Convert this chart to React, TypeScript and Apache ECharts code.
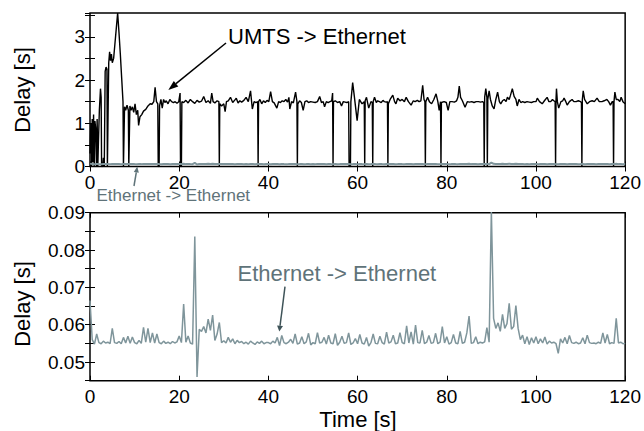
import React, { useEffect, useRef } from "react";
import * as echarts from "echarts";

// Time axis ticks (s)
const timeTicks = [0, 20, 40, 60, 80, 100, 120];

// UMTS -> Ethernet one-way delay [time s, delay s]
const umtsDelay: [number, number][] = [
  [0, 0.3], [0.2, 1.0], [0.35, 0], [0.5, 1.1], [0.65, 0.1], [0.8, 1.2], [0.95, 0], [1.1, 1.05], [1.3, 0.85], [1.45, 0],
  [1.6, 1.1], [1.75, 0], [1.9, 0.6], [2.1, 1.3], [2.35, 1.8], [2.5, 1.6], [2.6, 0], [2.85, 0], [3.0, 0.2], [3.2, 0],
  [3.4, 2.2], [3.6, 2.3], [3.8, 2.25], [3.9, 0], [4.05, 0], [4.2, 2.4], [4.4, 2.65], [4.6, 2.45], [4.8, 2.6], [5.0, 2.4],
  [5.3, 2.5], [5.6, 2.85], [5.9, 3.2], [6.2, 3.55], [6.5, 3.1], [6.8, 2.6], [7.1, 2.05], [7.4, 1.5], [7.5, 0], [7.6, 0],
  [7.75, 1.38], [8.0, 1.3], [8.3, 1.42], [8.6, 1.3], [8.7, 0], [8.8, 0], [8.95, 1.4], [9.2, 1.3], [9.5, 1.38], [9.8, 1.25],
  [10.1, 1.45], [10.4, 1.2], [10.7, 1.3], [10.9, 0.95], [11.2, 1.15], [11.6, 1.2], [12.0, 1.28], [12.5, 1.32], [13.0, 1.4], [13.5, 1.45],
  [13.9, 1.44], [14.3, 1.5], [14.6, 1.83], [14.9, 1.5], [15.2, 1.45], [15.3, 0], [15.5, 0], [15.6, 1.4], [15.9, 1.55], [16.2, 1.35],
  [16.5, 1.55], [16.8, 1.48], [17.1, 1.52], [17.5, 1.45], [17.9, 1.55], [18.3, 1.5], [18.7, 1.48], [19.1, 1.5], [19.5, 1.46], [19.9, 1.5],
  [20.2, 1.7], [20.3, 0], [20.5, 0], [20.6, 1.5], [21.0, 1.48], [21.5, 1.53], [22.0, 1.47], [22.5, 1.55], [23.0, 1.5], [23.5, 1.46],
  [24.0, 1.53], [24.5, 1.49], [25.0, 1.51], [25.5, 1.62], [26.0, 1.48], [26.5, 1.52], [27.0, 1.46], [27.3, 1.7], [27.6, 1.5], [28.0, 1.47],
  [28.5, 1.52], [28.9, 1.5], [29.0, 0], [29.1, 1.45], [29.5, 1.4], [30.0, 1.45], [30.3, 1.27], [30.6, 1.5], [31.0, 1.52], [31.5, 1.6],
  [32.0, 1.48], [32.5, 1.54], [32.8, 1.58], [33.2, 1.47], [33.6, 1.52], [34.0, 1.49], [34.5, 1.53], [35.0, 1.6], [35.5, 1.5], [36.0, 1.75],
  [36.4, 1.33], [36.8, 1.5], [37.2, 1.48], [37.6, 1.5], [37.7, 0], [37.8, 1.5], [38.1, 1.55], [38.5, 1.45], [38.9, 1.52], [39.3, 1.48],
  [39.7, 1.53], [40.1, 1.5], [40.5, 1.73], [40.9, 1.5], [41.3, 1.47], [41.9, 1.35], [42.3, 1.5], [42.7, 1.48], [43.1, 1.52], [43.5, 1.5],
  [43.9, 1.55], [44.3, 1.49], [44.6, 1.6], [44.8, 1.33], [45.2, 1.5], [45.6, 1.47], [46.1, 1.72], [46.4, 1.5], [46.5, 0], [46.6, 1.45],
  [47.0, 1.52], [47.4, 1.48], [47.8, 1.3], [48.2, 1.5], [48.6, 1.52], [49.0, 1.48], [49.5, 1.5], [50.0, 1.49], [50.5, 1.48], [51.0, 1.5],
  [51.5, 1.62], [51.9, 1.48], [52.3, 1.5], [52.6, 1.38], [53.0, 1.5], [53.4, 1.48], [53.8, 1.5], [54.2, 1.52], [54.4, 1.7], [54.5, 0],
  [54.6, 1.5], [55.0, 1.52], [55.5, 1.48], [56.0, 1.5], [56.4, 1.4], [56.8, 1.5], [57.2, 1.49], [57.6, 1.48], [58.0, 1.5], [58.1, 0],
  [58.4, 0], [58.5, 1.5], [58.9, 1.94], [59.3, 1.6], [59.9, 1.06], [60.4, 1.55], [61.0, 1.45], [61.5, 1.5], [61.6, 0], [61.7, 1.52],
  [62.0, 1.6], [62.5, 1.35], [63.0, 1.5], [63.3, 1.48], [63.4, 0], [63.5, 1.5], [63.8, 1.6], [64.2, 1.48], [64.5, 1.52], [64.9, 1.5],
  [65.3, 1.48], [65.7, 1.53], [66.0, 1.5], [66.4, 1.49], [66.7, 1.5], [66.8, 0], [66.9, 1.45], [67.3, 1.55], [67.9, 1.65], [68.3, 1.5],
  [68.6, 1.45], [69.0, 1.58], [69.5, 1.52], [70.0, 1.55], [70.5, 1.5], [70.9, 1.6], [71.4, 1.5], [72.0, 1.42], [72.5, 1.52], [72.9, 1.5],
  [73.4, 1.53], [73.8, 1.5], [74.2, 1.52], [74.6, 1.88], [74.9, 1.55], [75.1, 1.5], [75.2, 0], [75.3, 1.5], [75.7, 1.6], [76.1, 1.5],
  [76.6, 1.45], [77.1, 1.55], [77.6, 1.68], [78.0, 1.5], [78.3, 1.3], [78.6, 1.5], [78.7, 0], [78.8, 1.48], [79.4, 1.5], [79.9, 1.48],
  [80.3, 1.3], [80.7, 1.5], [81.2, 1.5], [81.7, 1.49], [82.2, 1.52], [82.5, 1.6], [82.8, 1.86], [83.1, 1.6], [83.5, 1.52], [84.1, 1.37],
  [84.6, 1.5], [85.1, 1.49], [85.6, 1.5], [86.1, 1.48], [86.6, 1.5], [87.1, 1.5], [87.6, 1.49], [88.0, 1.5], [88.3, 1.48], [88.4, 0],
  [88.5, 1.6], [88.75, 1.8], [89.0, 1.6], [89.1, 0], [89.2, 1.55], [89.5, 1.75], [89.8, 1.55], [90.2, 1.4], [90.6, 1.33], [91.0, 1.55],
  [91.4, 1.72], [91.8, 1.5], [92.1, 1.45], [92.5, 1.52], [92.9, 1.55], [93.3, 1.5], [93.6, 1.6], [94.0, 1.55], [94.3, 1.65], [94.7, 1.8],
  [95.1, 1.62], [95.5, 1.55], [95.8, 1.4], [96.2, 1.55], [96.6, 1.48], [97.0, 1.5], [97.5, 1.48], [98.0, 1.5], [98.5, 1.49], [99.0, 1.48],
  [99.5, 1.5], [100.0, 1.5], [100.3, 1.58], [100.8, 1.5], [101.4, 1.45], [101.9, 1.52], [102.5, 1.6], [102.9, 1.5], [103.3, 1.5], [103.7, 1.55],
  [104.0, 1.52], [104.3, 1.5], [104.4, 0], [104.5, 1.55], [104.6, 1.8], [104.8, 1.5], [105.1, 1.35], [105.6, 1.5], [106.0, 1.52], [106.3, 1.58],
  [106.7, 1.5], [107.0, 1.42], [107.5, 1.5], [108.1, 1.55], [108.5, 1.5], [109.0, 1.5], [109.5, 1.52], [110.0, 1.5], [110.2, 1.48], [110.3, 0],
  [110.4, 1.55], [110.6, 1.75], [110.9, 1.55], [111.5, 1.45], [112.0, 1.5], [112.6, 1.52], [113.1, 1.5], [113.7, 1.58], [114.2, 1.5], [114.8, 1.5],
  [115.3, 1.52], [115.9, 1.55], [116.3, 1.5], [116.7, 1.42], [117.1, 1.5], [117.3, 1.5], [117.4, 0], [117.5, 1.5], [117.7, 1.72], [118.0, 1.55],
  [118.4, 1.55], [118.8, 1.5], [119.1, 1.6], [119.5, 1.5], [120, 1.45],
];

// Ethernet -> Ethernet delay, sampled every 0.5 s from t = 0
const ethernetStart = 0;
const ethernetStep = 0.5;
const ethernetDelay = [
  0.0665, 0.056, 0.0548, 0.0575, 0.0552, 0.0549, 0.0556, 0.0551, 0.0553, 0.0549,
  0.059, 0.0552, 0.055, 0.0555, 0.0549, 0.0566, 0.0551, 0.0569, 0.055, 0.0567,
  0.0552, 0.0549, 0.0558, 0.055, 0.0593, 0.0553, 0.059, 0.0552, 0.0578, 0.0551,
  0.0575, 0.0552, 0.0549, 0.0556, 0.055, 0.0553, 0.0549, 0.0555, 0.0551, 0.0554,
  0.057, 0.0552, 0.0655, 0.0553, 0.057, 0.0551, 0.0548, 0.0836, 0.046, 0.0588,
  0.0582, 0.0595, 0.0578, 0.0615, 0.0585, 0.0626, 0.0558, 0.0575, 0.0606, 0.0552,
  0.0557, 0.0551, 0.0566, 0.0553, 0.0562, 0.0549, 0.0558, 0.0552, 0.0555, 0.0549,
  0.0553, 0.0548, 0.0556, 0.0551, 0.0547, 0.0554, 0.055, 0.0556, 0.0549, 0.0552,
  0.0552, 0.0549, 0.0556, 0.0551, 0.0566, 0.0544, 0.0571, 0.0552, 0.0549, 0.0553,
  0.0561, 0.055, 0.0575, 0.0548, 0.0551, 0.0568, 0.0549, 0.0554, 0.0577, 0.0546,
  0.0552, 0.0549, 0.0579, 0.0551, 0.0553, 0.0566, 0.0548, 0.0572, 0.0551, 0.0549,
  0.0576, 0.0545, 0.0553, 0.0569, 0.055, 0.0552, 0.0578, 0.0547, 0.0551, 0.0563,
  0.0549, 0.0574, 0.0551, 0.0548, 0.0566, 0.0543, 0.0552, 0.0575, 0.055, 0.0549,
  0.0569, 0.0552, 0.0548, 0.058, 0.0551, 0.0554, 0.0572, 0.0549, 0.0551, 0.0579,
  0.0552, 0.0549, 0.0597, 0.0551, 0.0581, 0.0548, 0.0599, 0.0552, 0.0551, 0.0585,
  0.0549, 0.0553, 0.0571, 0.055, 0.0552, 0.0577, 0.0549, 0.0553, 0.0595, 0.0551,
  0.0568, 0.0548, 0.0552, 0.0574, 0.0551, 0.0549, 0.0582, 0.055, 0.0553, 0.0578,
  0.0623, 0.055, 0.0552, 0.0568, 0.0549, 0.0553, 0.0551, 0.0554, 0.0592, 0.0553,
  0.0905, 0.0617, 0.059, 0.0605, 0.0582, 0.0628, 0.059, 0.0603, 0.0657, 0.0588,
  0.0595, 0.0651, 0.059, 0.056, 0.0572, 0.0549, 0.0568, 0.0547, 0.0565, 0.0551,
  0.0568, 0.0549, 0.0562, 0.0551, 0.0567, 0.0548, 0.0556, 0.0551, 0.0553, 0.0549,
  0.0523, 0.0562, 0.0551, 0.0566, 0.0549, 0.0571, 0.0552, 0.055, 0.0553, 0.0549,
  0.0551, 0.0565, 0.0549, 0.0572, 0.0552, 0.055, 0.0551, 0.0549, 0.0553, 0.055,
  0.0578, 0.0551, 0.0574, 0.0549, 0.0552, 0.055, 0.0617, 0.0551, 0.0553, 0.0549,
  0.055,
];

const GREY = "#7f959b";
const TEXT_GREY = "#5f7379";
const ARROW_GREY = "#3e5358";
const FONT = "'Liberation Sans', Arial, Helvetica, sans-serif";

export default function App() {
  const ref = useRef<HTMLDivElement>(null);

  useEffect(() => {
    if (!ref.current) return;
    const chart = echarts.init(ref.current, null, { renderer: "svg" });
    const ethPairs = ethernetDelay.map((v, i) => [ethernetStart + i * ethernetStep, v]);

    const tick = { show: true, inside: true, length: 5, lineStyle: { color: "#000", width: 1 } };
    const labelStyle = { color: "#000", fontSize: 19, fontFamily: FONT };
    const xBase = {
      type: "value",
      min: timeTicks[0],
      max: timeTicks[timeTicks.length - 1],
      interval: timeTicks[1] - timeTicks[0],
      axisLine: { show: false },
      splitLine: { show: false },
      axisTick: tick,
    };
    const yTopBase = {
      type: "value",
      min: 0,
      max: 3.55,
      interval: 0.5,
      axisLine: { show: false },
      splitLine: { show: false },
      axisTick: tick,
    };
    const yBotBase = {
      type: "value",
      min: 0.045,
      max: 0.09,
      interval: 0.005,
      axisLine: { show: false },
      splitLine: { show: false },
      axisTick: tick,
    };

    chart.setOption({
      animation: false,
      grid: [
        { left: 90, top: 13, width: 536.5, height: 153.5, show: true, borderColor: "#000", borderWidth: 1.5 },
        { left: 90, top: 212.7, width: 536.5, height: 168, show: true, borderColor: "#000", borderWidth: 1.5 },
      ],
      xAxis: [
        { ...xBase, gridIndex: 0, position: "bottom", axisLabel: { ...labelStyle, margin: 6 } },
        { ...xBase, gridIndex: 0, position: "top", axisLabel: { show: false } },
        { ...xBase, gridIndex: 1, position: "bottom", axisLabel: { ...labelStyle, margin: 6 } },
        { ...xBase, gridIndex: 1, position: "top", axisLabel: { show: false } },
      ],
      yAxis: [
        {
          ...yTopBase,
          gridIndex: 0,
          position: "left",
          axisLabel: {
            ...labelStyle,
            margin: 5,
            showMaxLabel: false,
            formatter: (v: number) => (Math.abs(v - Math.round(v)) < 1e-6 ? String(Math.round(v)) : ""),
          },
        },
        { ...yTopBase, gridIndex: 0, position: "right", axisLabel: { show: false } },
        {
          ...yBotBase,
          gridIndex: 1,
          position: "left",
          axisLabel: {
            ...labelStyle,
            margin: 5,
            formatter: (v: number) => (Math.round(v * 1000) % 10 === 0 ? v.toFixed(2) : ""),
          },
        },
        { ...yBotBase, gridIndex: 1, position: "right", axisLabel: { show: false } },
      ],
      series: [
        {
          type: "line",
          xAxisIndex: 0,
          yAxisIndex: 0,
          data: umtsDelay,
          symbol: "none",
          showSymbol: false,
          lineStyle: { color: "#000", width: 1.4 },
          z: 2,
        },
        {
          type: "line",
          xAxisIndex: 0,
          yAxisIndex: 0,
          data: ethPairs,
          symbol: "none",
          showSymbol: false,
          lineStyle: { color: GREY, width: 2 },
          z: 3,
        },
        {
          type: "line",
          xAxisIndex: 2,
          yAxisIndex: 2,
          data: ethPairs,
          symbol: "none",
          showSymbol: false,
          lineStyle: { color: GREY, width: 1.5 },
          z: 2,
        },
      ],
      graphic: [
        {
          type: "text",
          x: 22.5,
          y: 90,
          rotation: Math.PI / 2,
          style: { text: "Delay [s]", fill: "#000", fontSize: 22, fontFamily: FONT, align: "center", verticalAlign: "middle" },
        },
        {
          type: "text",
          x: 22.5,
          y: 304,
          rotation: Math.PI / 2,
          style: { text: "Delay [s]", fill: "#000", fontSize: 22, fontFamily: FONT, align: "center", verticalAlign: "middle" },
        },
        {
          type: "text",
          x: 358,
          y: 419,
          style: { text: "Time [s]", fill: "#000", fontSize: 22, fontFamily: FONT, align: "center", verticalAlign: "middle" },
        },
        {
          type: "text",
          x: 228,
          y: 36,
          style: { text: "UMTS -> Ethernet", fill: "#000", fontSize: 22, fontFamily: FONT, align: "left", verticalAlign: "middle" },
        },
        {
          type: "text",
          x: 96.5,
          y: 195,
          style: { text: "Ethernet -> Ethernet", fill: TEXT_GREY, fontSize: 17, fontFamily: FONT, align: "left", verticalAlign: "middle" },
        },
        {
          type: "text",
          x: 237.5,
          y: 273,
          style: { text: "Ethernet -> Ethernet", fill: TEXT_GREY, fontSize: 22, fontFamily: FONT, align: "left", verticalAlign: "middle" },
        },
        // arrow: UMTS
        { type: "line", shape: { x1: 226, y1: 43, x2: 176, y2: 83.7 }, style: { stroke: "#000", lineWidth: 1.5 } },
        { type: "polygon", shape: { points: [[168.3, 90], [178.3, 86.4], [173.8, 81.0]] }, style: { fill: "#000" } },
        // arrow: small ethernet (top)
        { type: "line", shape: { x1: 134, y1: 186, x2: 136.3, y2: 172.4 }, style: { stroke: TEXT_GREY, lineWidth: 1.5 } },
        { type: "polygon", shape: { points: [[137.3, 166.5], [138.8, 172.8], [133.8, 172.0]] }, style: { fill: TEXT_GREY } },
        // arrow: ethernet (bottom)
        { type: "line", shape: { x1: 285, y1: 286.7, x2: 280.05, y2: 325.75 }, style: { stroke: ARROW_GREY, lineWidth: 1.5 } },
        { type: "polygon", shape: { points: [[279.3, 331.5], [283.0, 326.1], [277.1, 325.4]] }, style: { fill: ARROW_GREY } },
      ],
    });

    return () => chart.dispose();
  }, []);

  return <div ref={ref} style={{ position: "absolute", left: 0, top: 0, width: 644, height: 431 }} />;
}
